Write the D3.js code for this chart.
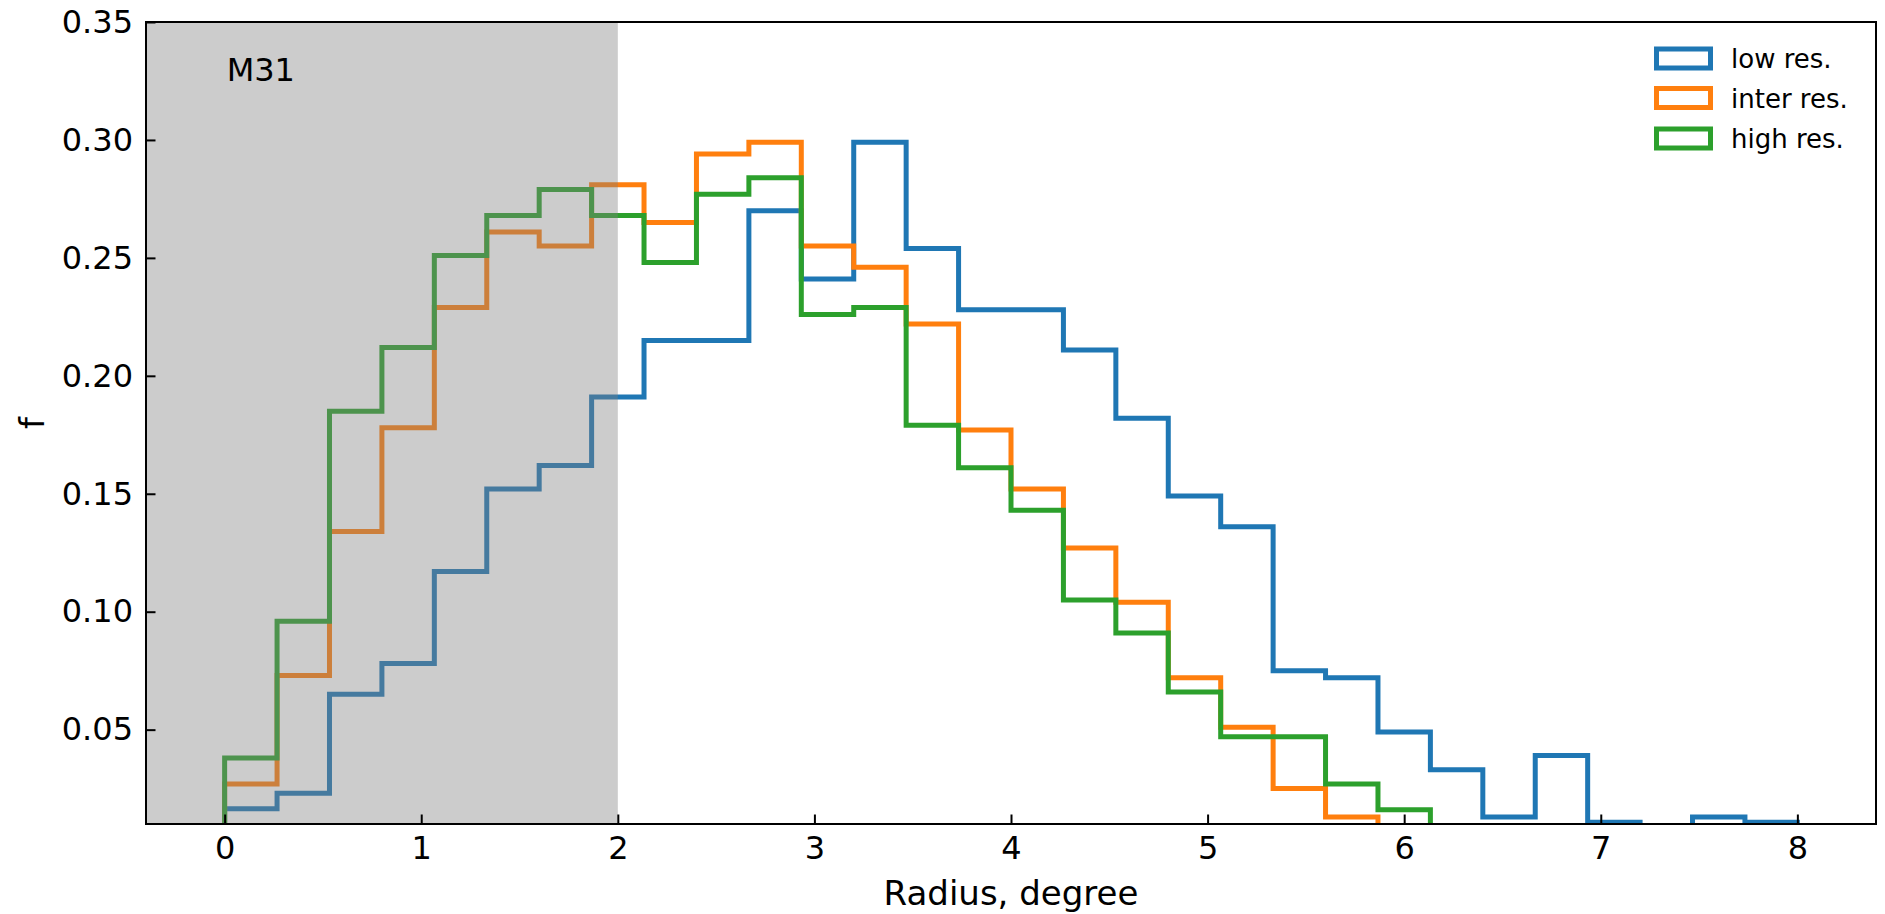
<!DOCTYPE html>
<html><head><meta charset="utf-8">
<script src="https://cdn.jsdelivr.net/npm/d3@7"></script>
<style>
body{margin:0;background:#fff}
text{font-family:"DejaVu Sans",sans-serif;fill:#000}
</style>
</head><body>
<svg id="chart" width="1885" height="914"></svg>
<script>
// ---- data ----
const binStart = 0, binEnd = 8, binCount = 30;
const seriesNames = ["low res.", "inter res.", "high res."];
const seriesColors = ["#1f77b4", "#ff7f0e", "#2ca02c"];
const lowRes = [0.0165, 0.023, 0.065, 0.078, 0.117, 0.152, 0.162, 0.191, 0.215, 0.215,
                0.270, 0.241, 0.299, 0.254, 0.228, 0.228, 0.211, 0.182, 0.149, 0.136,
                0.075, 0.072, 0.049, 0.033, 0.013, 0.039, 0.0107, 0.0, 0.013, 0.0107];
const interRes = [0.027, 0.073, 0.134, 0.178, 0.229, 0.261, 0.255, 0.281, 0.265, 0.294,
                  0.299, 0.255, 0.246, 0.222, 0.177, 0.152, 0.127, 0.104, 0.072, 0.051,
                  0.025, 0.013];
const highRes = [0.038, 0.096, 0.185, 0.212, 0.251, 0.268, 0.279, 0.268, 0.248, 0.277,
                 0.284, 0.226, 0.229, 0.179, 0.161, 0.143, 0.105, 0.091, 0.066, 0.047,
                 0.047, 0.027, 0.016];
const xTicks = [0, 1, 2, 3, 4, 5, 6, 7, 8];
const yTicks = [0.05, 0.10, 0.15, 0.20, 0.25, 0.30, 0.35];
const yTickLabels = ["0.05", "0.10", "0.15", "0.20", "0.25", "0.30", "0.35"];
const xDomain = [-0.4, 8.4];
const yDomain = [0.01, 0.35];
const shadeEnd = 2;
const annotation = "M31";
const xLabel = "Radius, degree";
const yLabel = "f";

// ---- layout ----
const L = 146, R = 1876, T = 22, B = 824;
const svg = d3.select("#chart");
const x = d3.scaleLinear().domain(xDomain).range([L, R]);
const y = d3.scaleLinear().domain(yDomain).range([B, T]);

svg.append("defs").append("clipPath").attr("id", "clip")
  .append("rect").attr("x", L).attr("y", T).attr("width", R - L).attr("height", B - T);

const binWidth = (binEnd - binStart) / binCount;
function stepPoints(vals) {
  const pts = [[binStart, 0]];
  vals.forEach((v, i) => {
    pts.push([binStart + i * binWidth, v]);
    pts.push([binStart + (i + 1) * binWidth, v]);
  });
  pts.push([binStart + vals.length * binWidth, 0]);
  return pts;
}
const line = d3.line().x(d => x(d[0])).y(d => y(d[1]));
const plot = svg.append("g").attr("clip-path", "url(#clip)");
[lowRes, interRes, highRes].forEach((vals, k) => {
  plot.append("path").attr("d", line(stepPoints(vals)))
    .attr("fill", "none").attr("stroke", seriesColors[k])
    .attr("stroke-width", 5).attr("stroke-linejoin", "miter");
});

// shaded span over the lines
plot.append("rect").attr("x", L).attr("y", T)
  .attr("width", x(shadeEnd) - L).attr("height", B - T)
  .attr("fill", "#808080").attr("fill-opacity", 0.4);

// axes
const xAxis = d3.axisBottom(x).tickValues(xTicks).tickFormat(d3.format("d"))
  .tickSizeInner(-9.5).tickSizeOuter(0).tickPadding(12);
const gx = svg.append("g").attr("transform", `translate(0,${B})`).call(xAxis);
const yAxis = d3.axisLeft(y).tickValues(yTicks).tickFormat((d, i) => yTickLabels[i])
  .tickSizeInner(-9.5).tickSizeOuter(0).tickPadding(13);
const gy = svg.append("g").attr("transform", `translate(${L},0)`).call(yAxis);
[gx, gy].forEach(g => {
  g.select(".domain").remove();
  g.selectAll(".tick line").attr("stroke", "#000").attr("stroke-width", 2);
  g.selectAll(".tick text").style("font-size", "32px").attr("fill", "#000")
    .style("font-family", "DejaVu Sans");
});

// frame
svg.append("rect").attr("x", L).attr("y", T).attr("width", R - L).attr("height", B - T)
  .attr("fill", "none").attr("stroke", "#000").attr("stroke-width", 2);

// annotation
svg.append("text").attr("x", x(0) + 2).attr("y", y(0.325)).style("font-size", "32px").text(annotation);

// axis labels
svg.append("text").attr("x", (L + R) / 2).attr("y", 905).attr("text-anchor", "middle")
  .style("font-size", "34px").text(xLabel);
svg.append("text").attr("transform", `translate(44,${(T + B) / 2}) rotate(-90)`)
  .attr("text-anchor", "middle").style("font-size", "34px").text(yLabel);

// legend
const legY = [58.5, 98, 138.5];
seriesNames.forEach((name, k) => {
  svg.append("rect").attr("x", 1656.5).attr("y", legY[k] - 9.5).attr("width", 54).attr("height", 19)
    .attr("fill", "none").attr("stroke", seriesColors[k]).attr("stroke-width", 5);
  svg.append("text").attr("x", 1731).attr("y", legY[k] + 9.5).style("font-size", "26px").text(name);
});
</script>
</body></html>
